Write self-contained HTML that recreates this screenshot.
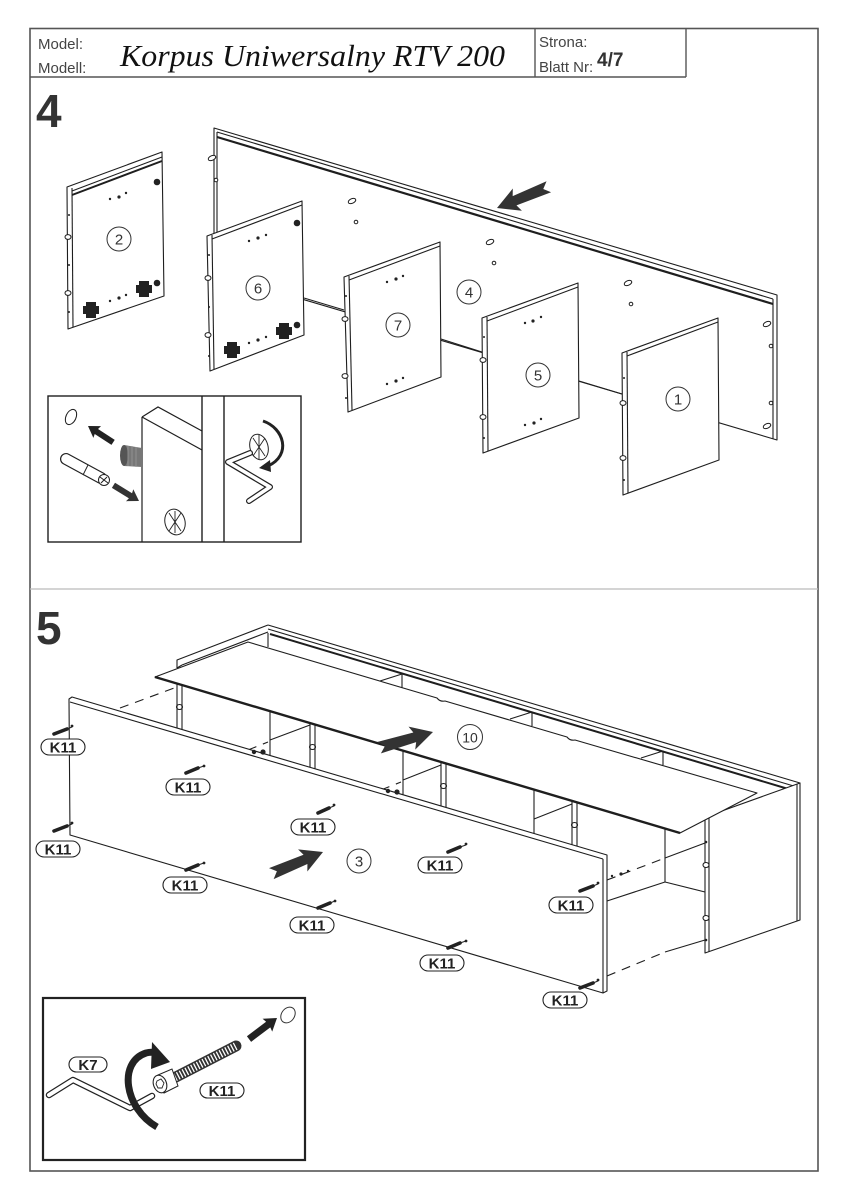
<!DOCTYPE html>
<html><head><meta charset="utf-8"><style>
html,body{margin:0;padding:0;background:#fff;}
svg{display:block;}
text{font-family:"Liberation Sans",Arial,sans-serif;}
</style></head><body>
<svg width="848" height="1200" viewBox="0 0 848 1200" xmlns="http://www.w3.org/2000/svg">
<rect x="0" y="0" width="848" height="1200" fill="#fff"/>
<!-- frame -->
<rect x="30" y="28.5" width="788" height="1142.5" fill="none" stroke="#555" stroke-width="1.6"/>
<line x1="30" y1="77" x2="686" y2="77" stroke="#555" stroke-width="1.4"/>
<line x1="535" y1="28" x2="535" y2="77" stroke="#555" stroke-width="1.4"/>
<line x1="686" y1="28" x2="686" y2="77" stroke="#555" stroke-width="1.4"/>
<line x1="30" y1="589" x2="818" y2="589" stroke="#bbb" stroke-width="1.2"/>
<!-- header text -->
<text x="38" y="49" font-size="15" fill="#444">Model:</text>
<text x="38" y="73" font-size="15" fill="#444">Modell:</text>
<text x="120" y="66" font-size="31" font-style="italic" fill="#111" style="font-family:'Liberation Serif',serif" textLength="385" lengthAdjust="spacingAndGlyphs">Korpus Uniwersalny RTV 200</text>
<text x="539" y="47" font-size="15" fill="#444">Strona:</text>
<text x="539" y="72" font-size="15" fill="#444">Blatt Nr:</text>
<text x="597" y="66" font-size="19" font-weight="bold" fill="#333">4/7</text>
<text x="36" y="127" font-size="46" font-weight="bold" fill="#333">4</text>
<text x="36" y="644" font-size="46" font-weight="bold" fill="#333">5</text>

<g stroke="#1e1e1e" stroke-width="1.1" fill="#fff" stroke-linejoin="round">
<!-- ===== STEP 4 ===== -->
<polygon points="214,128 777,295 777,440 214,273"/>
<line x1="217" y1="132" x2="773" y2="299"/>
<line x1="217" y1="137" x2="773" y2="304" stroke-width="2.2"/>
<line x1="217" y1="132" x2="217" y2="272"/>
<line x1="773" y1="299" x2="773" y2="439"/>
<g stroke-width="1">
<ellipse cx="212" cy="158" rx="4" ry="2.3" transform="rotate(-25 212 158)"/>
<circle cx="216" cy="180" r="1.8"/>
<ellipse cx="352" cy="201" rx="4" ry="2.3" transform="rotate(-25 352 201)"/>
<circle cx="356" cy="222" r="1.8"/>
<ellipse cx="490" cy="242" rx="4" ry="2.3" transform="rotate(-25 490 242)"/>
<circle cx="494" cy="263" r="1.8"/>
<ellipse cx="628" cy="283" rx="4" ry="2.3" transform="rotate(-25 628 283)"/>
<circle cx="631" cy="304" r="1.8"/>
<ellipse cx="767" cy="324" rx="4" ry="2.3" transform="rotate(-25 767 324)"/>
<circle cx="771" cy="346" r="1.8"/>
<circle cx="771" cy="403" r="1.8"/>
<ellipse cx="767" cy="426" rx="4" ry="2.3" transform="rotate(-25 767 426)"/>
</g>
<polygon points="67,187 162,152 164,296 68,329"/>
<line x1="72" y1="188" x2="73" y2="327"/>
<line x1="72" y1="191" x2="162" y2="157"/>
<line x1="72" y1="195" x2="162" y2="161" stroke-width="2"/>
<polygon points="207,236 302,201 304,335 210,371"/>
<line x1="212" y1="235" x2="214" y2="369"/>
<line x1="212" y1="239" x2="302" y2="205"/>
<polygon points="344,277 440,242 441,377 348,412"/>
<line x1="349" y1="276" x2="352" y2="410"/>
<line x1="349" y1="280" x2="440" y2="246"/>
<polygon points="482,318 578,283 579,418 483,453"/>
<line x1="487" y1="317" x2="488" y2="451"/>
<line x1="487" y1="321" x2="578" y2="287"/>
<polygon points="622,353 718,318 719,460 623,495"/>
<line x1="627" y1="352" x2="628" y2="493"/>
<line x1="627" y1="356" x2="718" y2="322"/>
<line x1="304" y1="298" x2="344" y2="310"/>
<line x1="441" y1="339" x2="482" y2="352"/>
<line x1="579" y1="381" x2="622" y2="394"/>
<g stroke-width="1">
<ellipse cx="68" cy="237" rx="3" ry="2.4"/><ellipse cx="68" cy="293" rx="3" ry="2.4"/>
<ellipse cx="208" cy="278" rx="3" ry="2.4"/><ellipse cx="208" cy="335" rx="3" ry="2.4"/>
<ellipse cx="345" cy="319" rx="3" ry="2.4"/><ellipse cx="345" cy="376" rx="3" ry="2.4"/>
<ellipse cx="483" cy="360" rx="3" ry="2.4"/><ellipse cx="483" cy="417" rx="3" ry="2.4"/>
<ellipse cx="623" cy="403" rx="3" ry="2.4"/><ellipse cx="623" cy="458" rx="3" ry="2.4"/>
</g>
</g>
<g fill="#222">
<circle cx="157" cy="182" r="3.3"/><circle cx="157" cy="283" r="3.3"/>
<circle cx="110" cy="199" r="1.2"/><circle cx="119" cy="197" r="1.6"/><circle cx="126" cy="193" r="1.2"/>
<circle cx="110" cy="301" r="1.2"/><circle cx="119" cy="298" r="1.6"/><circle cx="126" cy="295" r="1.2"/>
<path d="M86,302 h10 v4 h3 v8 h-3 v4 h-10 v-4 h-3 v-8 h3z"/>
<path d="M139,281 h10 v4 h3 v8 h-3 v4 h-10 v-4 h-3 v-8 h3z"/>
<circle cx="297" cy="223" r="3.3"/><circle cx="297" cy="325" r="3.3"/>
<circle cx="249" cy="241" r="1.2"/><circle cx="258" cy="238" r="1.6"/><circle cx="266" cy="235" r="1.2"/>
<circle cx="249" cy="343" r="1.2"/><circle cx="258" cy="340" r="1.6"/><circle cx="266" cy="337" r="1.2"/>
<path d="M227,342 h10 v4 h3 v8 h-3 v4 h-10 v-4 h-3 v-8 h3z"/>
<path d="M279,323 h10 v4 h3 v8 h-3 v4 h-10 v-4 h-3 v-8 h3z"/>
<circle cx="387" cy="282" r="1.2"/><circle cx="396" cy="279" r="1.6"/><circle cx="403" cy="276" r="1.2"/>
<circle cx="387" cy="384" r="1.2"/><circle cx="396" cy="381" r="1.6"/><circle cx="403" cy="378" r="1.2"/>
<circle cx="525" cy="323" r="1.2"/><circle cx="533" cy="321" r="1.6"/><circle cx="541" cy="317" r="1.2"/>
<circle cx="525" cy="425" r="1.2"/><circle cx="534" cy="423" r="1.6"/><circle cx="541" cy="419" r="1.2"/>
<circle cx="69" cy="215" r="1"/><circle cx="69" cy="265" r="1"/><circle cx="69" cy="312" r="1"/>
<circle cx="209" cy="255" r="1"/><circle cx="209" cy="307" r="1"/><circle cx="209" cy="356" r="1"/>
<circle cx="346" cy="296" r="1"/><circle cx="346" cy="398" r="1"/>
<circle cx="484" cy="337" r="1"/><circle cx="484" cy="438" r="1"/>
<circle cx="624" cy="378" r="1"/><circle cx="624" cy="480" r="1"/>
</g>
<g fill="#fff" stroke="#333" stroke-width="1">
<circle cx="119" cy="239" r="12"/><circle cx="258" cy="288" r="12"/><circle cx="398" cy="325" r="12"/>
<circle cx="469" cy="292" r="12"/><circle cx="538" cy="375" r="12"/><circle cx="678" cy="399" r="12"/>
</g>
<g font-size="15" fill="#333" text-anchor="middle">
<text x="119" y="244.5">2</text><text x="258" y="293.5">6</text><text x="398" y="330.5">7</text>
<text x="469" y="297.5">4</text><text x="538" y="380.5">5</text><text x="678" y="404.5">1</text>
</g>
<polygon points="0,0 -22,-12 -19,-5 -56,-6 -50,0 -56,6 -19,5 -22,12" fill="#333" transform="translate(497,208) rotate(157.7)"/>

<!-- step 4 inset -->
<g stroke="#1e1e1e" stroke-width="1.4" fill="none">
<rect x="48" y="396" width="253" height="146"/>
<line x1="202" y1="396" x2="202" y2="542"/>
<line x1="224" y1="396" x2="224" y2="542"/>
<line x1="142" y1="417" x2="142" y2="542" stroke-width="1.2"/>
<polyline points="142,417 158,407 202,431" stroke-width="1.2"/>
<line x1="142" y1="417" x2="202" y2="450" stroke-width="1.2"/>
<ellipse cx="71" cy="417" rx="5" ry="8" transform="rotate(25 71 417)" stroke-width="1"/>
</g>
<polygon points="124,445 142,448 142,467 124,466" fill="#777"/>
<ellipse cx="124" cy="455.5" rx="4" ry="10.5" fill="#555"/>
<g stroke="#999" stroke-width="0.8">
<line x1="128" y1="446" x2="128" y2="466"/><line x1="132" y1="446" x2="132" y2="466"/><line x1="136" y1="447" x2="136" y2="467"/>
</g>
<line x1="66" y1="459" x2="101" y2="478" stroke="#222" stroke-width="12" stroke-linecap="round"/>
<line x1="66" y1="459" x2="101" y2="478" stroke="#fff" stroke-width="9.6" stroke-linecap="round"/>
<line x1="88" y1="465" x2="83" y2="475" stroke="#222" stroke-width="1"/>
<circle cx="104" cy="480" r="5.5" fill="#fff" stroke="#222" stroke-width="1"/>
<path d="M100,477 l8,6 M101,483 l6,-6" stroke="#222" stroke-width="1"/>
<polygon points="0,0 -11,-7 -10,-3 -30,-3 -30,3 -10,3 -11,7" fill="#222" transform="translate(88,426) rotate(213.2)"/>
<polygon points="0,0 -11,-7 -10,-3 -30,-3 -30,3 -10,3 -11,7" fill="#333" transform="translate(139,501) rotate(31.6)"/>
<g stroke="#222" stroke-width="1" fill="#fff">
<ellipse cx="175" cy="522" rx="10" ry="13" transform="rotate(-15 175 522)"/>
<path d="M169,513 l12,18 M181,513 l-12,18 M175,511 v22" stroke-width="0.9"/>
<ellipse cx="259" cy="447" rx="9" ry="13" transform="rotate(-15 259 447)"/>
<path d="M253,438 l12,18 M265,438 l-12,18 M259,435 v24" stroke-width="0.9"/>
</g>
<polyline points="250,453 228,462 270,487 249,501" fill="none" stroke="#222" stroke-width="6" stroke-linejoin="round" stroke-linecap="round"/>
<polyline points="250,453 228,462 270,487 249,501" fill="none" stroke="#fff" stroke-width="3.6" stroke-linejoin="round" stroke-linecap="round"/>
<path d="M263,421 C284,428 292,455 268,466" fill="none" stroke="#222" stroke-width="3"/>
<polygon points="259,468 270,460 271,472" fill="#222"/>

<!-- ===== STEP 5 ===== -->
<g stroke="#1e1e1e" stroke-width="1.1" fill="none" stroke-linejoin="round">
<polyline points="177,668 177,660 268,625"/>
<line x1="182" y1="665" x2="268" y2="632"/>
<line x1="177" y1="668" x2="182" y2="665"/>
<line x1="268" y1="625" x2="800" y2="783"/>
<line x1="268" y1="629" x2="797" y2="787"/>
<line x1="270" y1="634" x2="795" y2="791" stroke-width="2"/>
<line x1="268" y1="633" x2="268" y2="647"/>
<polyline points="380,681 402,674 402,688"/>
<polyline points="510,719 532,712 532,726"/>
<polyline points="641,758 663,751 663,765"/>
<polyline points="177,684 177,731"/><polyline points="182,683 182,731"/>
<polyline points="310,723 310,772"/><polyline points="315,722 315,772"/>
<polyline points="441,762 441,811"/><polyline points="446,761 446,811"/>
<polyline points="572,801 572,850"/><polyline points="577,800 577,850"/>
<ellipse cx="179.5" cy="707" rx="3" ry="2.5"/>
<ellipse cx="312.5" cy="747" rx="3" ry="2.5"/>
<ellipse cx="443.5" cy="786" rx="3" ry="2.5"/>
<ellipse cx="574.5" cy="825" rx="3" ry="2.5"/>
<line x1="270" y1="704" x2="270" y2="757"/>
<line x1="403" y1="743" x2="403" y2="796"/>
<line x1="534" y1="782" x2="534" y2="835"/>
<line x1="270" y1="740" x2="310" y2="725"/>
<line x1="403" y1="780" x2="441" y2="765"/>
<line x1="534" y1="819" x2="572" y2="804"/>
<line x1="665" y1="828" x2="665" y2="882"/>
<line x1="607" y1="901" x2="665" y2="882"/>
<line x1="665" y1="882" x2="705" y2="892"/>
<line x1="665" y1="858" x2="705" y2="843"/>
<line x1="665" y1="952" x2="705" y2="940"/>
<g stroke-dasharray="9,7">
<line x1="607" y1="880" x2="665" y2="858"/>
<line x1="607" y1="976" x2="665" y2="952"/>
<line x1="120" y1="708" x2="177" y2="687"/>
<line x1="248" y1="750" x2="268" y2="742"/>
<line x1="381" y1="790" x2="401" y2="782"/>
</g>
</g>
<g stroke="#1e1e1e" stroke-width="1.1" fill="#fff" stroke-linejoin="round">
<polygon points="705,817 800,783 800,920 705,953"/>
<line x1="709" y1="816" x2="709" y2="952"/>
<line x1="797" y1="784" x2="797" y2="921"/>
<ellipse cx="706" cy="865" rx="3" ry="2.5"/><ellipse cx="706" cy="918" rx="3" ry="2.5"/>
<path d="M155,677 L248,642 L437,698 q3,4 8,3 L567,737 q3,4 8,3 L757,793 L680,833 Z"/>
<line x1="155" y1="677" x2="680" y2="833" stroke-width="2.4"/>
<polygon points="69,699 72,697 607,855 607,991 603,993 70,835"/>
<line x1="70" y1="702" x2="603" y2="859"/>
<line x1="603" y1="859" x2="603" y2="993"/>
</g>
<g fill="#222">
<circle cx="706" cy="842" r="1.3"/><circle cx="706" cy="940" r="1.3"/>
<circle cx="254" cy="752" r="2.2"/><circle cx="263" cy="752" r="2.6"/>
<circle cx="388" cy="791" r="2.2"/><circle cx="397" cy="792" r="2.6"/>
<circle cx="612" cy="876" r="1.2"/><circle cx="621" cy="874" r="1.6"/><circle cx="628" cy="871" r="1.2"/>
</g>
<g stroke="#222" stroke-width="3.6" stroke-linecap="round">
<line x1="54" y1="734" x2="67" y2="729"/>
<line x1="186" y1="773" x2="198" y2="768"/>
<line x1="318" y1="813" x2="329" y2="808"/>
<line x1="54" y1="831" x2="67" y2="826"/>
<line x1="186" y1="870" x2="198" y2="865"/>
<line x1="318" y1="908" x2="330" y2="903"/>
<line x1="448" y1="852" x2="460" y2="847"/>
<line x1="448" y1="948" x2="460" y2="943"/>
<line x1="580" y1="891" x2="593" y2="886"/>
<line x1="580" y1="988" x2="593" y2="983"/>
</g>
<g stroke="#222" stroke-width="1">
<line x1="67" y1="729" x2="72" y2="727"/><line x1="198" y1="768" x2="204" y2="766"/>
<line x1="329" y1="808" x2="334" y2="806"/><line x1="67" y1="826" x2="72" y2="824"/>
<line x1="198" y1="865" x2="204" y2="863"/><line x1="330" y1="903" x2="335" y2="901"/>
<line x1="460" y1="847" x2="466" y2="845"/><line x1="460" y1="943" x2="466" y2="941"/>
<line x1="593" y1="886" x2="598" y2="884"/><line x1="593" y1="983" x2="598" y2="981"/>
</g>
<g fill="#222">
<circle cx="72" cy="726" r="1.4"/><circle cx="204" cy="766" r="1.4"/><circle cx="334" cy="805" r="1.4"/>
<circle cx="72" cy="823" r="1.4"/><circle cx="204" cy="863" r="1.4"/><circle cx="335" cy="901" r="1.4"/>
<circle cx="466" cy="844" r="1.4"/><circle cx="466" cy="941" r="1.4"/><circle cx="598" cy="883" r="1.4"/><circle cx="598" cy="980" r="1.4"/>
</g>
<g fill="#fff" stroke="#222" stroke-width="1.1">
<rect x="41" y="739" width="44" height="16" rx="8"/>
<rect x="166" y="779" width="44" height="16" rx="8"/>
<rect x="291" y="819" width="44" height="16" rx="8"/>
<rect x="36" y="841" width="44" height="16" rx="8"/>
<rect x="163" y="877" width="44" height="16" rx="8"/>
<rect x="290" y="917" width="44" height="16" rx="8"/>
<rect x="418" y="857" width="44" height="16" rx="8"/>
<rect x="420" y="955" width="44" height="16" rx="8"/>
<rect x="549" y="897" width="44" height="16" rx="8"/>
<rect x="543" y="992" width="44" height="16" rx="8"/>
</g>
<g font-size="15" font-weight="bold" fill="#222" text-anchor="middle">
<text x="63" y="752.5">K11</text>
<text x="188" y="792.5">K11</text>
<text x="313" y="832.5">K11</text>
<text x="58" y="854.5">K11</text>
<text x="185" y="890.5">K11</text>
<text x="312" y="930.5">K11</text>
<text x="440" y="870.5">K11</text>
<text x="442" y="968.5">K11</text>
<text x="571" y="910.5">K11</text>
<text x="565" y="1005.5">K11</text>
</g>
<polygon points="0,0 -22,-12 -19,-5 -56,-6 -50,0 -56,6 -19,5 -22,12" fill="#333" transform="translate(433,732) rotate(-16.2)"/>
<polygon points="0,0 -22,-12 -19,-5 -56,-6 -50,0 -56,6 -19,5 -22,12" fill="#333" transform="translate(323,852) rotate(-22.7)"/>
<g fill="#fff" stroke="#333" stroke-width="1">
<circle cx="470" cy="737" r="12.5"/><circle cx="359" cy="861" r="12"/>
</g>
<g font-size="15" fill="#333" text-anchor="middle">
<text x="470" y="742.5" font-size="14">10</text><text x="359" y="866.5">3</text>
</g>

<!-- bottom inset -->
<rect x="43" y="998" width="262" height="162" fill="none" stroke="#222" stroke-width="2.2"/>
<polyline points="49,1095 73,1080 130,1108 152,1096" fill="none" stroke="#222" stroke-width="6.5" stroke-linejoin="round" stroke-linecap="round"/>
<polyline points="49,1095 73,1080 130,1108 152,1096" fill="none" stroke="#fff" stroke-width="4" stroke-linejoin="round" stroke-linecap="round"/>
<line x1="170" y1="1080" x2="236" y2="1046" stroke="#333" stroke-width="11" stroke-linecap="round"/>
<line x1="172" y1="1079" x2="236" y2="1046" stroke="#fff" stroke-width="8" stroke-dasharray="1.3,1.9"/>
<polygon points="158,1075 172,1069 178,1086 164,1093" fill="#fff" stroke="#222" stroke-width="1"/>
<ellipse cx="160" cy="1084" rx="6.5" ry="9" fill="#fff" stroke="#222" stroke-width="1.1" transform="rotate(-20 160 1084)"/>
<polygon points="157,1081 161,1079 164,1083 162,1088 158,1088 156,1084" fill="none" stroke="#222" stroke-width="0.9"/>
<path d="M157,1127 C124,1108 118,1062 146,1053 C150,1052 153,1052 156,1053" fill="none" stroke="#222" stroke-width="7"/>
<polygon points="152,1042 170,1062 151,1069" fill="#222"/>
<polygon points="0,0 -12,-8 -11,-3.5 -35,-3.5 -35,3.5 -11,3.5 -12,8" fill="#222" transform="translate(277,1018) rotate(-36.9)"/>
<ellipse cx="288" cy="1015" rx="6.5" ry="8.5" transform="rotate(35 288 1015)" fill="#fff" stroke="#333" stroke-width="1"/>
<rect x="69" y="1057" width="38" height="15" rx="7.5" fill="#fff" stroke="#222" stroke-width="1.1"/>
<rect x="200" y="1083" width="44" height="15" rx="7.5" fill="#fff" stroke="#222" stroke-width="1.1"/>
<text x="88" y="1070" font-size="15" font-weight="bold" fill="#222" text-anchor="middle">K7</text>
<text x="222" y="1096" font-size="15" font-weight="bold" fill="#222" text-anchor="middle">K11</text>
</svg>
</body></html>
